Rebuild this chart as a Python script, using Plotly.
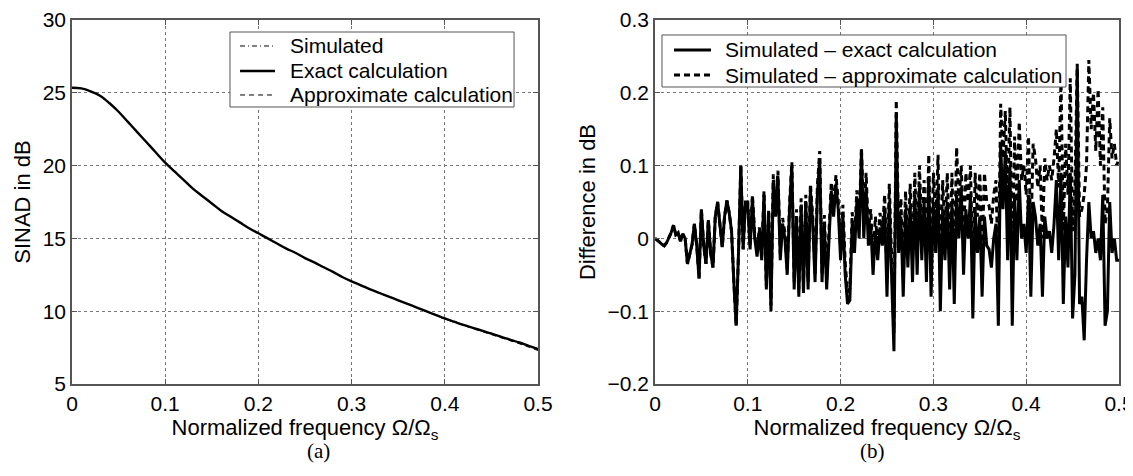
import numpy as np
import plotly.graph_objects as go
from plotly.subplots import make_subplots

# (a) SINAD vs normalized frequency
freq_a = np.linspace(0, 0.5, 51)
sinad_exact = [25.35, 25.3, 25.1, 24.8, 24.3, 23.7, 23.0, 22.3, 21.6, 20.9,
               20.2, 19.6, 19.0, 18.4, 17.9, 17.4, 16.9, 16.5, 16.1, 15.7,
               15.35, 15.0, 14.65, 14.3, 14.0, 13.65, 13.35, 13.02, 12.7, 12.35,
               12.05, 11.78, 11.5, 11.25, 11.0, 10.75, 10.5, 10.25, 10.0, 9.75,
               9.5, 9.28, 9.06, 8.86, 8.66, 8.46, 8.25, 8.05, 7.85, 7.62, 7.4]
sinad_sim = [25.35, 25.3, 25.1, 24.8, 24.3, 23.7, 23.0, 22.3, 21.6, 20.9,
             20.2, 19.6, 19.0, 18.4, 17.9, 17.4, 16.9, 16.5, 16.1, 15.7,
             15.35, 15.0, 14.65, 14.3, 14.0, 13.65, 13.35, 13.04, 12.7, 12.36,
             12.03, 11.8, 11.48, 11.27, 10.97, 10.78, 10.47, 10.28, 9.96, 9.78,
             9.46, 9.31, 9.02, 8.89, 8.62, 8.5, 8.2, 8.08, 7.8, 7.65, 7.35]
sinad_approx = [25.35, 25.3, 25.1, 24.8, 24.3, 23.7, 23.0, 22.3, 21.6, 20.9,
                20.2, 19.6, 19.0, 18.4, 17.9, 17.4, 16.9, 16.5, 16.1, 15.7,
                15.35, 15.0, 14.65, 14.3, 14.0, 13.65, 13.35, 13.02, 12.7, 12.35,
                12.05, 11.78, 11.5, 11.25, 11.0, 10.75, 10.5, 10.24, 9.98, 9.73,
                9.47, 9.24, 9.02, 8.81, 8.6, 8.39, 8.18, 7.97, 7.76, 7.53, 7.3]

# (b) differences, sampled every 0.0025
freq_b = np.linspace(0, 0.5, 201)
diff_exact = [
    0.0, -0.002, -0.005, -0.008, -0.01, -0.006, 0.0, 0.008, 0.018, 0.005,
    0.008, -0.004, 0.006, 0.0, -0.035, -0.02, -0.008, 0.02, -0.01, -0.055,
    0.04, -0.01, -0.035, 0.025, -0.02, -0.04, 0.03, 0.05, 0.02, -0.012,
    0.03, 0.052, 0.035, 0.01, -0.06, -0.12, -0.02, 0.10, -0.015, 0.05,
    0.045, -0.015, 0.055, 0.0, -0.025, 0.01, -0.03, 0.06, -0.07, 0.035,
    -0.10, 0.08, 0.03, 0.085, -0.03, 0.02, 0.0, -0.05, 0.04, 0.10,
    -0.07, 0.03, -0.08, 0.045, -0.075, 0.05, -0.07, 0.065, 0.02, -0.06,
    0.06, 0.11, -0.06, 0.02, -0.07, 0.0, 0.065, 0.03, 0.075, 0.04,
    -0.03, 0.03, -0.05, -0.09, -0.085, 0.02, -0.02, 0.05, 0.0, 0.12,
    0.0, 0.07, -0.01, 0.02, -0.05, 0.01, -0.03, 0.015, -0.01, 0.04,
    -0.08, 0.05, -0.05, -0.155, 0.17, -0.02, 0.03, -0.08, 0.04, -0.04,
    0.045, -0.06, 0.06, -0.05, 0.07, -0.03, 0.05, -0.06, 0.085, -0.08,
    0.05, -0.02, 0.07, -0.10, 0.04, -0.03, 0.05, -0.07, 0.05, -0.09,
    0.06, 0.0, 0.07, -0.05, 0.04, 0.0, 0.06, -0.11, 0.04, -0.02,
    0.03, -0.08, 0.03, -0.01, -0.015, -0.04, 0.0, 0.02, -0.12, 0.13,
    0.04, 0.12, -0.03, 0.10, -0.12, 0.06, -0.03, 0.08, 0.0, 0.02,
    -0.02, 0.06, -0.08, 0.05, 0.03, -0.01, 0.02, -0.08, 0.03, 0.0,
    0.01, -0.02, 0.02, 0.08, -0.03, 0.09, -0.09, 0.03, -0.04, 0.09,
    -0.11, -0.05, 0.235, -0.09, -0.08, -0.14, -0.03, 0.05, 0.0, 0.01,
    -0.02, 0.0, -0.03, 0.06, -0.12, -0.10, 0.05, -0.02, 0.0, -0.03,
    -0.03]
diff_approx = [
    0.0, -0.002, -0.005, -0.008, -0.01, -0.006, 0.0, 0.008, 0.018, 0.005,
    0.008, -0.004, 0.006, 0.0, -0.035, -0.02, -0.008, 0.02, -0.01, -0.055,
    0.04, -0.01, -0.035, 0.025, -0.02, -0.04, 0.03, 0.05, 0.02, -0.012,
    0.03, 0.052, 0.035, 0.01, -0.06, -0.12, -0.02, 0.10, -0.015, 0.05,
    0.05, -0.01, 0.06, 0.005, -0.02, 0.015, -0.025, 0.065, -0.065, 0.04,
    -0.092, 0.088, 0.038, 0.093, -0.022, 0.028, 0.008, -0.042, 0.048, 0.105,
    -0.06, 0.04, -0.07, 0.055, -0.065, 0.06, -0.06, 0.075, 0.03, -0.05,
    0.072, 0.12, -0.048, 0.032, -0.058, 0.012, 0.077, 0.042, 0.087, 0.052,
    -0.014, 0.046, -0.034, -0.074, -0.069, 0.036, -0.004, 0.066, 0.016, 0.125,
    0.02, 0.09, 0.01, 0.04, -0.03, 0.03, -0.01, 0.035, 0.01, 0.06,
    -0.055, 0.075, -0.025, -0.13, 0.19, 0.005, 0.055, -0.055, 0.065, -0.015,
    0.075, -0.03, 0.09, -0.02, 0.10, 0.0, 0.08, -0.03, 0.115, -0.05,
    0.09, 0.02, 0.115, -0.06, 0.08, 0.01, 0.09, -0.03, 0.09, -0.04,
    0.125, 0.05, 0.10, 0.0, 0.09, 0.05, 0.10, -0.06, 0.09, 0.03,
    0.09, -0.02, 0.09, 0.05, 0.045, 0.02, 0.06, 0.08, -0.06, 0.185,
    0.11, 0.175, 0.04, 0.18, -0.05, 0.14, 0.05, 0.16, 0.08, 0.10,
    0.06, 0.14, 0.0, 0.13, 0.11, 0.07, 0.10, 0.0, 0.11, 0.08,
    0.10, 0.08, 0.11, 0.15, 0.07, 0.22, 0.01, 0.13, 0.06, 0.22,
    0.01, 0.07, 0.24, 0.03, 0.04, 0.06, 0.10, 0.245, 0.15, 0.20,
    0.12, 0.205, 0.10, 0.18, 0.02, 0.04, 0.165, 0.11, 0.13, 0.10,
    0.11]

FONT = "Liberation Sans, Arial, Helvetica, sans-serif"
SERIF = "Liberation Serif, Times New Roman, serif"
AXC = "#555555"

# line styles, shared by traces and legend keys
st_sim = dict(color="black", width=1, dash="5px,3px,1px,3px")
st_exact = dict(color="black", width=2.4)
st_approx = dict(color="black", width=1, dash="5px,4px")
st_diff_exact = dict(color="black", width=3)
st_diff_approx = dict(color="black", width=3, dash="6px,4px")

fig = make_subplots(rows=1, cols=2)

fig.add_trace(go.Scatter(x=freq_a, y=sinad_sim, name="Simulated", mode="lines",
                         line=dict(st_sim, shape="spline")), row=1, col=1)
fig.add_trace(go.Scatter(x=freq_a, y=sinad_exact, name="Exact calculation", mode="lines",
                         line=dict(st_exact, shape="spline")), row=1, col=1)
fig.add_trace(go.Scatter(x=freq_a, y=sinad_approx, name="Approximate calculation", mode="lines",
                         line=dict(st_approx, shape="spline")), row=1, col=1)

fig.add_trace(go.Scatter(x=freq_b, y=diff_exact, name="Simulated \u2013 exact calculation",
                         mode="lines", line=st_diff_exact), row=1, col=2)
fig.add_trace(go.Scatter(x=freq_b, y=diff_approx, name="Simulated \u2013 approximate calculation",
                         mode="lines", line=st_diff_approx), row=1, col=2)

axis_common = dict(showline=True, linecolor=AXC, linewidth=1.5, mirror="ticks",
                   ticks="inside", ticklen=5, tickcolor=AXC, automargin=False,
                   ticklabeloverflow="allow",
                   showgrid=True, gridcolor="#777777", griddash="dot", gridwidth=1,
                   zeroline=False, tickfont=dict(size=21, color="black"),
                   title_font=dict(size=22, color="black"))

xtitle = "Normalized frequency \u03a9/\u03a9<sub>s</sub>"
fig.update_xaxes(axis_common)
fig.update_yaxes(axis_common)
fig.update_xaxes(domain=[0, 0.4451], range=[0, 0.5], dtick=0.1, tickformat="~g",
                 title_text=xtitle, title_standoff=3, row=1, col=1)
fig.update_xaxes(domain=[0.5568, 1], range=[0, 0.5], dtick=0.1, tickformat="~g",
                 title_text=xtitle, title_standoff=3, row=1, col=2)
fig.update_yaxes(range=[5, 30], dtick=5, title_text="SINAD in dB", title_standoff=6,
                 row=1, col=1)
fig.update_yaxes(range=[-0.2, 0.3], dtick=0.1, tickformat="~g",
                 title_text="Difference in dB", title_standoff=6, row=1, col=2)

# legend boxes drawn by hand so the rows sit as tight as the original
shapes = []
annotations = []


def add_legend(box, rows, key_x, text_x):
    x0, x1, y0, y1 = box
    shapes.append(dict(type="rect", xref="paper", yref="paper", x0=x0, x1=x1, y0=y0, y1=y1,
                       fillcolor="white", line=dict(color=AXC, width=1), layer="above"))
    for y, style, label in rows:
        shapes.append(dict(type="line", xref="paper", yref="paper", x0=key_x[0], x1=key_x[1],
                           y0=y, y1=y, line=style, layer="above"))
        annotations.append(dict(text=label, x=text_x, y=y, xref="paper", yref="paper",
                                xanchor="left", yanchor="middle", showarrow=False,
                                font=dict(family=FONT, size=21, color="black")))


add_legend((0.1509, 0.4222, 0.7610, 0.9670),
           [(0.9286, st_sim, "Simulated"),
            (0.8599, st_exact, "Exact calculation"),
            (0.7940, st_approx, "Approximate calculation")],
           (0.1605, 0.1939), 0.2063)
add_legend((0.5635, 0.9494, 0.8159, 0.9588),
           [(0.9176, st_diff_exact, "Simulated \u2013 exact calculation"),
            (0.8489, st_diff_approx, "Simulated \u2013 approximate calculation")],
           (0.5750, 0.6103), 0.6218)

annotations += [
    dict(text="(a)", x=0.2226, y=-0.2225, xref="paper", yref="paper",
         showarrow=False, font=dict(family=SERIF, size=21, color="black")),
    dict(text="(b)", x=0.7784, y=-0.2225, xref="paper", yref="paper",
         showarrow=False, font=dict(family=SERIF, size=21, color="black")),
]

fig.update_layout(
    width=1133, height=476,
    margin=dict(l=64, r=22, t=12, b=100, autoexpand=False),
    paper_bgcolor="white", plot_bgcolor="white",
    font=dict(family=FONT, size=21, color="black"),
    showlegend=False,
    shapes=shapes,
    annotations=annotations,
)

fig.write_html("out.html")
